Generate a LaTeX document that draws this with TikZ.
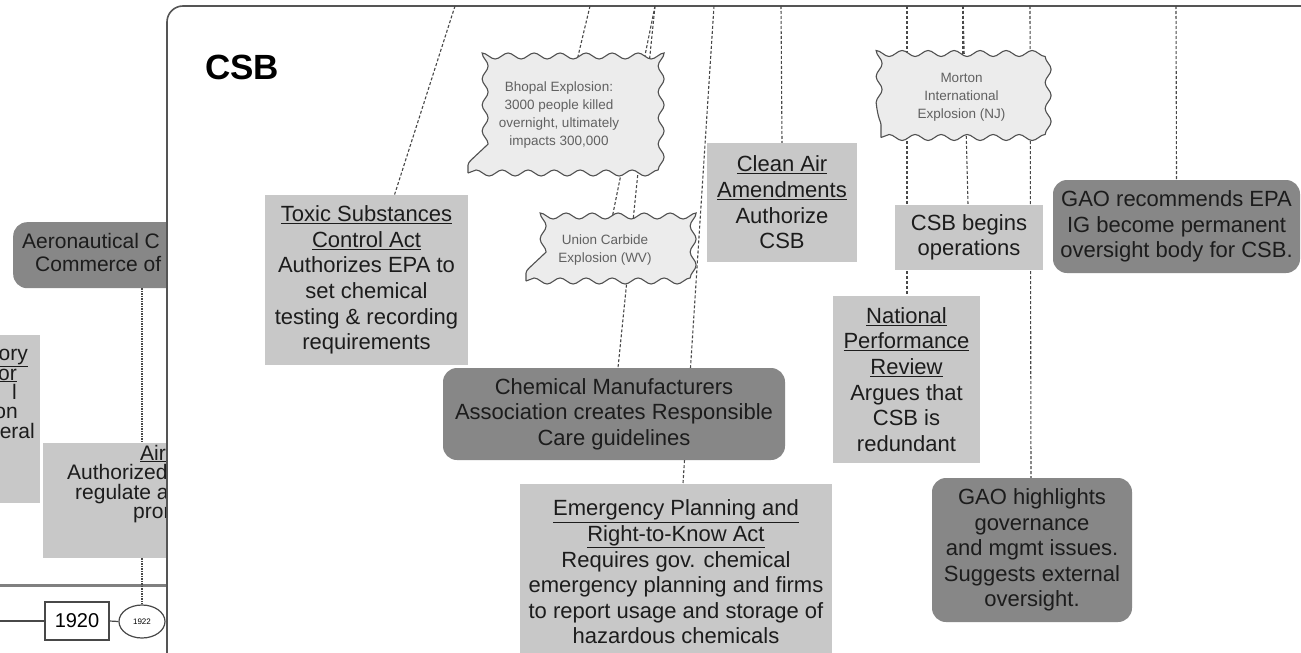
\documentclass[tikz,border=0pt]{standalone}
\usepackage{fontspec}
\setmainfont{Liberation Sans}
\usetikzlibrary{decorations.pathmorphing,calc,shapes.geometric}
\definecolor{lightbox}{HTML}{C8C8C8}
\definecolor{darkbox}{HTML}{878787}
\definecolor{wavefill}{HTML}{ECECEC}
\definecolor{waveline}{HTML}{505050}
\definecolor{txt}{HTML}{1C1C1C}
\definecolor{linegray}{HTML}{484848}
\definecolor{panelline}{HTML}{555555}
\pgfdeclarelayer{back}
\pgfdeclarelayer{lines}
\pgfsetlayers{back,lines,main}
\begin{document}
\begin{tikzpicture}[x=1pt,y=-1pt,
  lbox/.style={fill=lightbox, inner sep=0pt, align=center, text=txt, font=\fontsize{22}{25.6}\selectfont},
  dbox/.style={fill=darkbox, rounded corners=14pt, inner sep=0pt, align=center, text=txt, font=\fontsize{22}{25.6}\selectfont},
  wavy/.style={draw=waveline, fill=wavefill, line width=1.1pt, decorate, decoration={snake,segment length=26pt,amplitude=3pt}, inner sep=0pt, align=center, text=black!62, font=\fontsize{13.5}{18}\selectfont},
  tl/.style={draw=linegray, line width=1.1pt, dash pattern=on 3pt off 2pt},
  dotl/.style={draw=linegray, line width=1.1pt, dash pattern=on 1.2pt off 1.3pt},
  frag/.style={inner sep=0pt, text=txt, text height=13pt, text depth=3pt, font=\fontsize{21}{20}\selectfont},
  csbtitle/.style={anchor=west, inner sep=0pt, font=\bfseries\fontsize{35}{35}\selectfont},
  panel/.style={draw=panelline, line width=1.6pt, fill=white, rounded corners=16pt},
  yearbox/.style={draw=linegray, fill=white, line width=1.2pt, inner sep=0pt, font=\fontsize{20}{20}\selectfont},
]
\useasboundingbox (0,0) rectangle (1301,653);

% ---------- CSB panel nodes ----------
\node[csbtitle] (csb) at (205,67) {CSB};
\node[lbox, minimum width=203pt, minimum height=170pt] (toxic) at (366.5,280)
  {\underline{Toxic Substances}\\\underline{Control Act}\\Authorizes EPA to\\set chemical\\testing \& recording\\requirements};
\node[wavy, minimum width=182pt, minimum height=116pt] (bhopal) at (559,115)
  {Bhopal Explosion:\\3000 people killed\\overnight, ultimately\\impacts 300,000};
\node[wavy, minimum width=158pt, minimum height=62pt] (union) at (605,250)
  {Union Carbide\\Explosion (WV)};
\node[lbox, minimum width=150pt, minimum height=119pt] (clean) at (782,202.5)
  {\underline{Clean Air}\\\underline{Amendments}\\Authorize\\CSB};
\node[wavy, minimum width=161pt, minimum height=81pt] (morton) at (961.5,97)
  {Morton\\International\\Explosion (NJ)};
\node[lbox, minimum width=148pt, minimum height=65pt] (begins) at (969,237.5)
  {CSB begins\\operations};
\node[dbox, minimum width=247pt, minimum height=93pt] (gaorec) at (1176.5,226.5)
  {GAO recommends EPA\\IG become permanent\\oversight body for CSB.};
\node[lbox, minimum width=147pt, minimum height=167pt] (npr) at (906.5,379.5)
  {\underline{National}\\\underline{Performance}\\\underline{Review}\\Argues that\\CSB is\\redundant};
\node[dbox, minimum width=200pt, minimum height=144pt] (gaohigh) at (1032,550)
  {GAO highlights\\governance\\and mgmt issues.\\Suggests external\\oversight.};
\node[dbox, minimum width=342pt, minimum height=92pt] (chem) at (614,414)
  {Chemical Manufacturers\\Association creates Responsible\\Care guidelines};
\node[lbox, minimum width=312pt, minimum height=177pt] (emerg) at (676,572)
  {\underline{Emergency Planning and}\\\underline{Right-to-Know Act}\\Requires gov. chemical\\emergency planning and firms\\to report usage and storage of\\hazardous chemicals};

% ---------- connectors from the top line ----------
\begin{pgfonlayer}{lines}
\coordinate (t1) at (455,6);
\coordinate (t2) at (590,6);
\coordinate (t3) at (655,6);
\coordinate (t4) at (714,6);
\coordinate (t5) at (781,6);
\coordinate (t6) at (907,6);
\coordinate (t7) at (963,6);
\coordinate (t8) at (1030,6);
\coordinate (t9) at (1176,6);
\draw[tl] (t1) -- ($(toxic.north)+(28,0)$);
\draw[tl] (t2) -- ($(bhopal.north)+(18,4)$);
\draw[tl] (t3) -- ($(union.north)+(7,0)$);
\draw[tl] (t3) -- ($(chem.north)+(4,0)$);
\draw[tl] (t4) -- ($(emerg.north)+(7,0)$);
\draw[tl] (t5) -- (clean.north);
\draw[tl] (t6) -- ($(npr.north)+(0.5,0)$);
\draw[tl] (t7) -- ($(morton.north)+(1.5,4)$);
\draw[tl] (t7) -- ($(begins.north)+(-1,0)$);
\draw[tl] (t8) -- ($(gaohigh.north)+(-1,0)$);
\draw[tl] (t9) -- (gaorec.north);
\end{pgfonlayer}

% ---------- background diagram on the left and the panel ----------
\begin{pgfonlayer}{back}
\begin{scope}
\clip (-5,-5) rectangle (167,660);
\coordinate (hl0) at (-5,585);
\coordinate (hl1) at (170,585);
\draw[draw=black!50, line width=3pt] (hl0) -- (hl1);
\node[dbox, minimum width=200pt, minimum height=66pt, anchor=north west] (aero) at (13,222) {};
\node[frag, anchor=west] (aeroa) at (22,243) {Aeronautical C};
\node[frag, anchor=west] (aerob) at (35,266) {Commerce of};
\node[fill=lightbox, inner sep=0pt, minimum width=100pt, minimum height=168pt, anchor=north east] (leftbox) at (40,335) {};
\node[frag, anchor=east] (lfa) at (28,355) {\underline{ory}};
\node[frag, anchor=east] (lfb) at (17,375) {\underline{or}};
\node[frag, anchor=east] (lfc) at (17,394) {l};
\node[frag, anchor=east] (lfd) at (18,413) {on};
\node[frag, anchor=east] (lfe) at (35,433) {eral};
\node[fill=lightbox, inner sep=0pt, minimum width=200pt, minimum height=115pt, anchor=north west] (air) at (43,443) {};
\node[frag, anchor=west] (aira) at (140,455) {\underline{Air}};
\node[frag, anchor=west] (airb) at (67,474) {Authorized};
\node[frag, anchor=west] (airc) at (75,494) {regulate a};
\node[frag, anchor=west] (aird) at (133,513) {prom};
\node[yearbox, minimum width=64pt, minimum height=38pt] (y1920) at (77,621) {1920};
\node[ellipse, draw=linegray, fill=white, line width=1.2pt, inner sep=0pt, minimum width=46pt, minimum height=33pt, font=\fontsize{8}{8}\selectfont] (y1922) at (142,621.5) {1922};
\coordinate (lt0) at (-5,621);
\draw[draw=linegray, line width=1.2pt] (lt0) -- (y1920.west);
\draw[draw=linegray, line width=1.2pt] (y1920.east) -- (y1922.west);
\draw[dotl] (aero.south -| y1922) -- (air.north -| y1922);
\draw[dotl] (air.south -| y1922) -- (y1922.north);
\end{scope}
\draw[panel] (167,700) -- (167,6) -- (1340,6) -- (1340,700);
\end{pgfonlayer}
\end{tikzpicture}
\end{document}
